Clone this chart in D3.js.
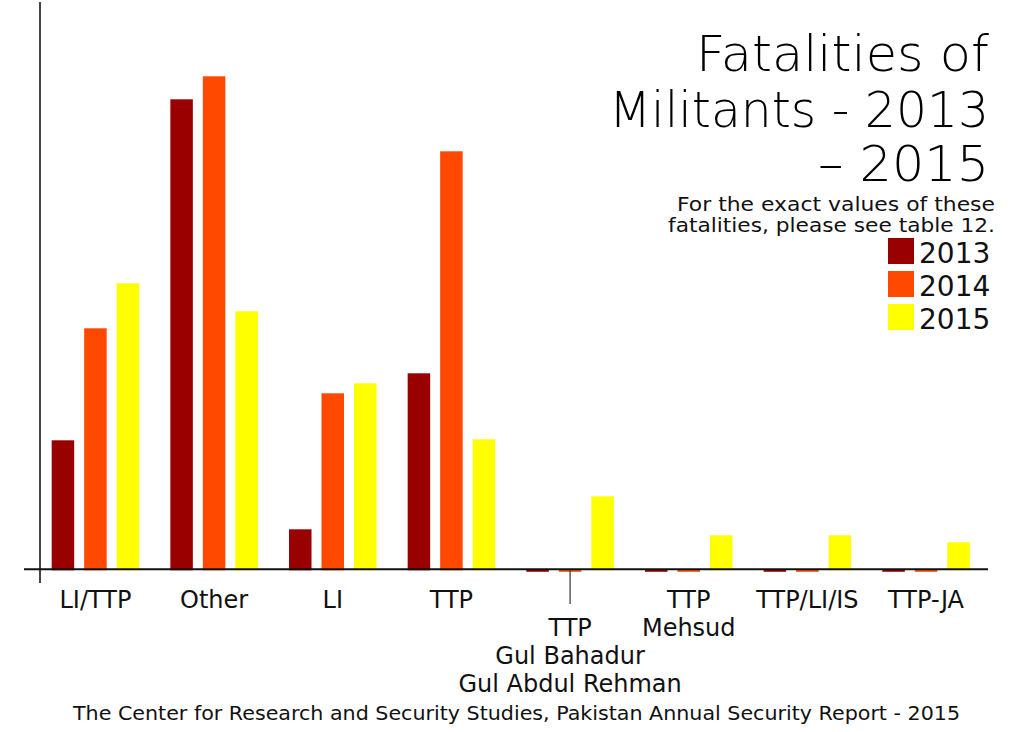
<!DOCTYPE html>
<html>
<head>
<meta charset="utf-8">
<script src="https://cdnjs.cloudflare.com/ajax/libs/d3/7.8.5/d3.min.js"></script>
<style>
  html, body { margin: 0; padding: 0; background: #fff; }
  svg { display: block; }
  text { font-family: "DejaVu Sans", sans-serif; fill: #111; }
</style>
</head>
<body>
<svg id="chart" width="1024" height="732"></svg>
<script>
// ---- data (approximate fatalities) ----
const categories = ["LI/TTP", "Other", "LI", "TTP", "TTP Gul Bahadur Gul Abdul Rehman", "TTP Mehsud", "TTP/LI/IS", "TTP-JA"];
const categoryLabelLines = [["LI/TTP"], ["Other"], ["LI"], ["TTP"], ["TTP", "Gul Bahadur", "Gul Abdul Rehman"], ["TTP", "Mehsud"], ["TTP/LI/IS"], ["TTP-JA"]];
const years = ["2013", "2014", "2015"];
const values2013 = [129, 470, 40, 196, 0, 0, 0, 0];
const values2014 = [241, 493, 176, 418, 0, 0, 0, 0];
const values2015 = [286, 258, 186, 130, 73, 34, 34, 27];
const seriesValues = [values2013, values2014, values2015];
const colors = ["#990000", "#ff4800", "#ffff00"];
const titleLines = ["Fatalities of", "Militants - 2013", "\u2013 2015"];
const noteLines = ["For the exact values of these", "fatalities, please see table 12."];
const footer = "The Center for Research and Security Studies, Pakistan Annual Security Report - 2015";

const svg = d3.select("#chart");

const x0 = d3.scaleBand().domain(categories).range([36.1, 985.4]).paddingInner(0).paddingOuter(0);
const x1 = d3.scaleBand().domain(years).range([0, x0.bandwidth()]).paddingInner(0.3077).paddingOuter(0.479);
const y = d3.scaleLinear().domain([0, 569.3]).range([569.3, 0]);

// bars
const barData = [];
categories.forEach((c, i) => {
  years.forEach((yr, j) => barData.push({ cat: c, year: yr, value: seriesValues[j][i], color: colors[j] }));
});
svg.append("g").selectAll("rect").data(barData).join("rect")
  .attr("x", d => x0(d.cat) + x1(d.year))
  .attr("width", x1.bandwidth())
  .attr("y", d => y(d.value))
  .attr("height", d => Math.max(2.5, y(0) - y(d.value) + 1))
  .attr("fill", d => d.color);

// axes lines
svg.append("line").attr("x1", 40).attr("x2", 40).attr("y1", 2).attr("y2", 583)
  .attr("stroke", "#444").attr("stroke-width", 2);
svg.append("line").attr("x1", 24).attr("x2", 988).attr("y1", y(0)).attr("y2", y(0))
  .attr("stroke", "#111").attr("stroke-width", 2);

// category labels
const lab = svg.append("g").attr("font-size", 24);
categories.forEach((c, i) => {
  const cx = x0(c) + x0.bandwidth() / 2;
  const lines = categoryLabelLines[i];
  const shifted = lines.length > 2;
  const startY = shifted ? 636 : 608;
  if (shifted) {
    svg.append("line").attr("x1", cx).attr("x2", cx).attr("y1", y(0)).attr("y2", 604)
      .attr("stroke", "#333").attr("stroke-width", 1.2);
  }
  lines.forEach((t, k) => {
    lab.append("text").attr("x", cx).attr("y", startY + k * 28)
      .attr("text-anchor", "middle").text(t);
  });
});

// title
const titleY = [71, 127, 181];
const titleW = [293, 380, 171];
titleLines.forEach((t, k) => {
  svg.append("text").attr("x", 989).attr("y", titleY[k]).attr("text-anchor", "end")
    .attr("font-size", 50).attr("font-weight", 300).style("fill", "#000")
    .attr("textLength", titleW[k]).attr("lengthAdjust", "spacingAndGlyphs").text(t);
});
// note
const noteY = [211, 232];
const noteW = [318, 327];
noteLines.forEach((t, k) => {
  svg.append("text").attr("x", 995).attr("y", noteY[k]).attr("text-anchor", "end")
    .attr("font-size", 19)
    .attr("textLength", noteW[k]).attr("lengthAdjust", "spacingAndGlyphs").text(t);
});
// legend
years.forEach((yr, j) => {
  const top = 238 + j * 33;
  svg.append("rect").attr("x", 888).attr("y", top).attr("width", 26).attr("height", 26).attr("fill", colors[j]);
  svg.append("text").attr("x", 919).attr("y", top + 25).attr("font-size", 28).text(yr);
});
// footer
svg.append("text").attr("x", 516.5).attr("y", 720).attr("text-anchor", "middle")
  .attr("font-size", 20).attr("textLength", 887).attr("lengthAdjust", "spacingAndGlyphs").text(footer);
</script>
</body>
</html>
